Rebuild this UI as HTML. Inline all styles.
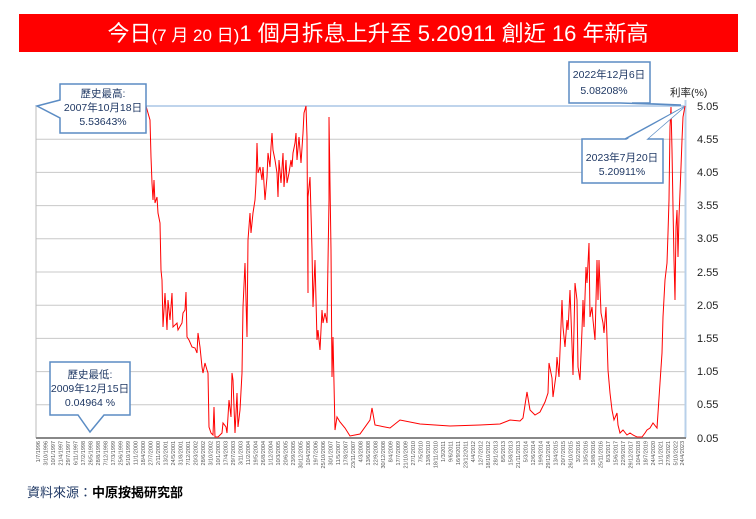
<!DOCTYPE html>
<html><head><meta charset="utf-8"><style>
body{margin:0;background:#fff;width:756px;height:519px;overflow:hidden;font-family:"Liberation Sans","Noto Sans CJK TC",sans-serif}
</style></head><body>
<svg width="756" height="519" xmlns="http://www.w3.org/2000/svg" style="position:absolute;left:0;top:0">
<rect x="19" y="14" width="719" height="38" fill="#ff0000"/>
<text x="378" y="41" fill="#fff" font-size="22" text-anchor="middle" font-family="Liberation Sans,'Noto Sans CJK TC',sans-serif">今日<tspan font-size="17">(7 月 20 日)</tspan>1 個月拆息上升至 5.20911 創近 16 年新高</text>
<g stroke="#c8c8c8" stroke-width="1">
<line x1="36" x2="685" y1="139.2" y2="139.2"/><line x1="36" x2="685" y1="172.4" y2="172.4"/><line x1="36" x2="685" y1="205.6" y2="205.6"/><line x1="36" x2="685" y1="238.8" y2="238.8"/><line x1="36" x2="685" y1="272" y2="272"/><line x1="36" x2="685" y1="305.2" y2="305.2"/><line x1="36" x2="685" y1="338.4" y2="338.4"/><line x1="36" x2="685" y1="371.6" y2="371.6"/><line x1="36" x2="685" y1="404.8" y2="404.8"/>
</g>
<line x1="36" x2="685" y1="106" y2="106" stroke="#7fa8d8" stroke-width="1"/>
<line x1="36" x2="36" y1="106" y2="438" stroke="#bbb"/>
<line x1="685.5" x2="685.5" y1="100" y2="438" stroke="#b8d0ea" stroke-width="2"/>
<line x1="36" x2="686" y1="438" y2="438" stroke="#888" stroke-width="2"/>
<g font-size="11" fill="#222">
<text x="697" y="110">5.05</text><text x="697" y="143">4.55</text><text x="697" y="176">4.05</text><text x="697" y="209">3.55</text><text x="697" y="242">3.05</text><text x="697" y="276">2.55</text><text x="697" y="309">2.05</text><text x="697" y="342">1.55</text><text x="697" y="375">1.05</text><text x="697" y="408">0.55</text><text x="697" y="442">0.05</text>
<text x="670" y="96" font-size="10.5">利率(%)</text>
</g>
<polyline fill="none" stroke="#ff0000" stroke-width="1" points="146,106 148,113 150,120 151,157 152,183 153,200 154,180 155,203 157,197 158,213 160,223 161,270 162,280 163,327 165,293 167,330 168,300 170,320 172,293 173,327 177,323 178,330 182,323 183,313 185,310 186,292 187,337 189,340 192,347 195,348 197,353 198,333 200,347 202,367 203,373 205,363 207,370 208,373 209,427 211,433 213,435 214,407 215,437 218,437 222,433 223,423 226,427 227,433 229,400 231,417 232,373 233,380 235,433 237,393 238,427 240,410 242,373 243,307 245,263 247,337 248,240 250,213 251,233 253,213 255,200 256,183 257,143 258,173 260,167 262,180 263,167 265,200 267,177 268,153 270,167 271,147 272,133 273,150 275,160 277,173 278,197 279,160 281,183 283,153 284,187 286,160 287,183 289,173 291,160 292,167 293,153 295,143 296,133 297,160 299,137 301,163 303,133 304,113 306,106 307,137 308,293 308,197 310,177 312,250 313,307 315,260 317,340 318,330 320,350 322,310 323,323 325,313 327,323 329,200 329,117 331,250 332,377 333,337 335,430 337,417 340,422 345,428 350,436 360,434 370,420 372,408 375,425 390,428 400,420 420,424 450,426 480,425 500,424 510,420 520,421 523,418 527,392 530,410 535,415 540,412 545,402 548,393 549,363 552,378 553,397 556,375 557,357 559,377 562,300 563,327 565,347 567,320 568,330 570,290 572,345 573,375 575,283 577,300 578,367 580,380 582,330 583,300 584,327 586,267 587,283 589,243 590,317 592,307 593,320 595,340 597,260 598,300 599,260 601,313 603,323 604,333 606,307 608,370 610,393 612,410 614,420 617,413 618,425 620,433 623,430 627,435 630,433 633,435 637,437 642,437 645,433 647,430 650,428 653,423 657,428 658,413 660,383 662,353 663,317 665,280 667,263 668,233 669,200 670,127 671,107 672,150 673,207 674,260 675,300 676,227 677,210 678,257 679,217 681,167 682,140 683,117 685,106"/>
<!-- callouts -->
<g fill="#fff" stroke="#5b8cc4" stroke-width="1.5">
<path d="M60,84 H146 V133 H60 V118 L37,106 L60,100 Z"/>
<path d="M50,362 H130 V415 H104 L90,432 L78,415 H50 Z"/>
<path d="M569,62 H650 V103 H632 L681,105 L620,103 H569 Z"/>
<path d="M582,139 H663 V183 H582 Z M625,139 L684,107 L647,139"/>
</g>
<path d="M626,140 L684,107 L646,140" fill="#fff" stroke="none"/>
<g font-size="10.5" fill="#1f3864" text-anchor="middle">
<text x="103" y="97">歷史最高:</text><text x="103" y="111">2007年10月18日</text><text x="103" y="125">5.53643%</text>
<text x="90" y="378">歷史最低:</text><text x="90" y="392">2009年12月15日</text><text x="90" y="406">0.04964 %</text>
<text x="609" y="78">2022年12月6日</text><text x="604" y="94">5.08208%</text>
<text x="622" y="161">2023年7月20日</text><text x="622" y="175">5.20911%</text>
</g>
<g font-size="5.5" fill="#555" text-anchor="end">
<text transform="translate(40,441) rotate(-90)">1/7/1996</text>
<text transform="translate(47.5,441) rotate(-90)">3/10/1996</text>
<text transform="translate(55,441) rotate(-90)">10/1/1997</text>
<text transform="translate(62.5,441) rotate(-90)">21/4/1997</text>
<text transform="translate(70,441) rotate(-90)">29/7/1997</text>
<text transform="translate(77.5,441) rotate(-90)">6/11/1997</text>
<text transform="translate(85,441) rotate(-90)">17/2/1998</text>
<text transform="translate(92.5,441) rotate(-90)">26/5/1998</text>
<text transform="translate(100,441) rotate(-90)">28/8/1998</text>
<text transform="translate(107.5,441) rotate(-90)">7/12/1998</text>
<text transform="translate(115,441) rotate(-90)">17/3/1999</text>
<text transform="translate(122.5,441) rotate(-90)">25/6/1999</text>
<text transform="translate(130,441) rotate(-90)">5/10/1999</text>
<text transform="translate(137.5,441) rotate(-90)">11/1/2000</text>
<text transform="translate(145,441) rotate(-90)">18/4/2000</text>
<text transform="translate(152.5,441) rotate(-90)">27/7/2000</text>
<text transform="translate(160,441) rotate(-90)">2/11/2000</text>
<text transform="translate(167.5,441) rotate(-90)">13/2/2001</text>
<text transform="translate(175,441) rotate(-90)">24/5/2001</text>
<text transform="translate(182.5,441) rotate(-90)">31/8/2001</text>
<text transform="translate(190,441) rotate(-90)">7/12/2001</text>
<text transform="translate(197.5,441) rotate(-90)">20/3/2002</text>
<text transform="translate(205,441) rotate(-90)">28/6/2002</text>
<text transform="translate(212.5,441) rotate(-90)">3/10/2002</text>
<text transform="translate(220,441) rotate(-90)">10/1/2003</text>
<text transform="translate(227.5,441) rotate(-90)">17/4/2003</text>
<text transform="translate(235,441) rotate(-90)">29/7/2003</text>
<text transform="translate(242.5,441) rotate(-90)">3/11/2003</text>
<text transform="translate(250,441) rotate(-90)">11/2/2004</text>
<text transform="translate(257.5,441) rotate(-90)">19/5/2004</text>
<text transform="translate(265,441) rotate(-90)">26/8/2004</text>
<text transform="translate(272.5,441) rotate(-90)">1/12/2004</text>
<text transform="translate(280,441) rotate(-90)">10/3/2005</text>
<text transform="translate(287.5,441) rotate(-90)">20/6/2005</text>
<text transform="translate(295,441) rotate(-90)">23/9/2005</text>
<text transform="translate(302.5,441) rotate(-90)">30/12/2005</text>
<text transform="translate(310,441) rotate(-90)">10/4/2006</text>
<text transform="translate(317.5,441) rotate(-90)">19/7/2006</text>
<text transform="translate(325,441) rotate(-90)">25/10/2006</text>
<text transform="translate(332.5,441) rotate(-90)">30/1/2007</text>
<text transform="translate(340,441) rotate(-90)">11/5/2007</text>
<text transform="translate(347.5,441) rotate(-90)">17/8/2007</text>
<text transform="translate(355,441) rotate(-90)">23/11/2007</text>
<text transform="translate(362.5,441) rotate(-90)">4/3/2008</text>
<text transform="translate(370,441) rotate(-90)">13/6/2008</text>
<text transform="translate(377.5,441) rotate(-90)">22/9/2008</text>
<text transform="translate(385,441) rotate(-90)">30/12/2008</text>
<text transform="translate(392.5,441) rotate(-90)">8/4/2009</text>
<text transform="translate(400,441) rotate(-90)">17/7/2009</text>
<text transform="translate(407.5,441) rotate(-90)">21/10/2009</text>
<text transform="translate(415,441) rotate(-90)">27/1/2010</text>
<text transform="translate(422.5,441) rotate(-90)">7/5/2010</text>
<text transform="translate(430,441) rotate(-90)">13/8/2010</text>
<text transform="translate(437.5,441) rotate(-90)">18/11/2010</text>
<text transform="translate(445,441) rotate(-90)">1/3/2011</text>
<text transform="translate(452.5,441) rotate(-90)">9/6/2011</text>
<text transform="translate(460,441) rotate(-90)">16/9/2011</text>
<text transform="translate(467.5,441) rotate(-90)">23/12/2011</text>
<text transform="translate(475,441) rotate(-90)">4/4/2012</text>
<text transform="translate(482.5,441) rotate(-90)">12/7/2012</text>
<text transform="translate(490,441) rotate(-90)">18/10/2012</text>
<text transform="translate(497.5,441) rotate(-90)">28/1/2013</text>
<text transform="translate(505,441) rotate(-90)">8/5/2013</text>
<text transform="translate(512.5,441) rotate(-90)">15/8/2013</text>
<text transform="translate(520,441) rotate(-90)">21/11/2013</text>
<text transform="translate(527.5,441) rotate(-90)">5/3/2014</text>
<text transform="translate(535,441) rotate(-90)">12/6/2014</text>
<text transform="translate(542.5,441) rotate(-90)">19/9/2014</text>
<text transform="translate(550,441) rotate(-90)">29/12/2014</text>
<text transform="translate(557.5,441) rotate(-90)">13/4/2015</text>
<text transform="translate(565,441) rotate(-90)">20/7/2015</text>
<text transform="translate(572.5,441) rotate(-90)">26/10/2015</text>
<text transform="translate(580,441) rotate(-90)">3/2/2016</text>
<text transform="translate(587.5,441) rotate(-90)">13/5/2016</text>
<text transform="translate(595,441) rotate(-90)">19/8/2016</text>
<text transform="translate(602.5,441) rotate(-90)">25/11/2016</text>
<text transform="translate(610,441) rotate(-90)">8/3/2017</text>
<text transform="translate(617.5,441) rotate(-90)">15/6/2017</text>
<text transform="translate(625,441) rotate(-90)">22/9/2017</text>
<text transform="translate(632.5,441) rotate(-90)">29/12/2017</text>
<text transform="translate(640,441) rotate(-90)">10/4/2018</text>
<text transform="translate(647.5,441) rotate(-90)">18/7/2019</text>
<text transform="translate(655,441) rotate(-90)">24/4/2020</text>
<text transform="translate(662.5,441) rotate(-90)">11/1/2021</text>
<text transform="translate(670,441) rotate(-90)">27/9/2021</text>
<text transform="translate(677.5,441) rotate(-90)">5/10/2022</text>
<text transform="translate(684,441) rotate(-90)">24/4/2023</text>
</g>
<text x="27" y="497" font-size="13" fill="#1f3864">資料來源：<tspan font-weight="bold" fill="#000">中原按揭研究部</tspan></text>
</svg>
</body></html>
